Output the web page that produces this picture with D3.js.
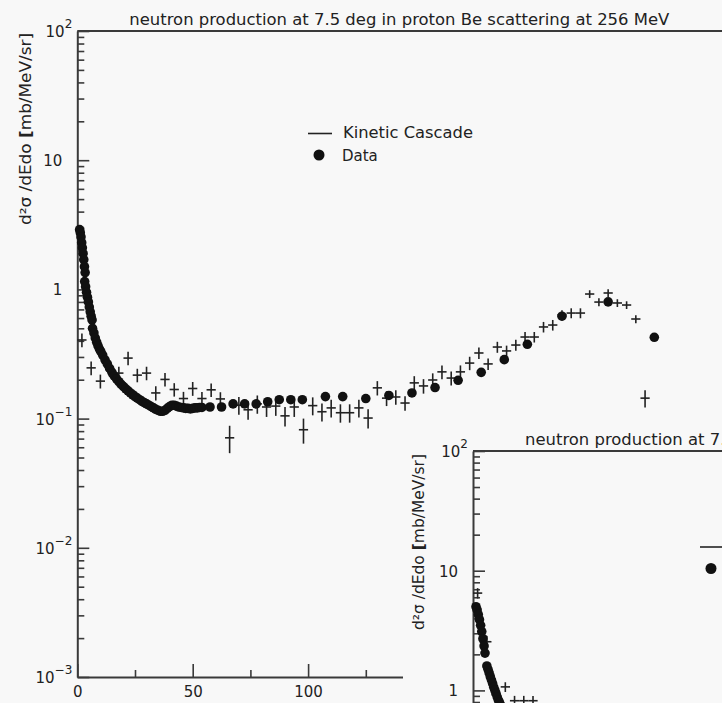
<!DOCTYPE html>
<html>
<head>
<meta charset="utf-8">
<script src="https://cdn.jsdelivr.net/npm/d3@7"></script>
<style>
  html, body { margin: 0; padding: 0; background: #f8f8f8; }
  svg { display: block; }
  text { font-family: "DejaVu Sans", sans-serif; fill: #222; }
</style>
</head>
<body>
<svg id="chart" width="722" height="703"></svg>
<script>
// ---- Be(p,n) at 7.5 deg, Tp = 256 MeV : measured spectrum (energy in MeV, d2sigma in mb/MeV/sr)
const dataE = [
  1.0, 1.3, 1.6, 1.9, 2.2, 2.5, 2.8, 3.1, 3.4,
  3.2, 3.6, 4.0, 4.4, 4.8, 5.2, 5.6, 6.0, 6.4,
  6.6, 7.2, 7.8, 8.4, 9.0, 9.6, 10.2, 11, 12, 13, 14, 15, 16, 17, 18, 19, 20,
  21, 22, 23, 24, 25, 26, 27, 28, 29, 30, 31, 32, 33, 34, 35, 36, 37, 38, 39, 40,
  41, 42, 43, 44, 45, 46, 47, 48, 49, 50, 51, 52, 53, 54,
  57.5, 62.5, 67.5, 72.5, 77.5, 82.5, 87.5, 92.5, 97.5, 107.5, 115, 125, 135,
  145, 155, 165, 175, 185, 195, 210, 230, 250
];
const dataV = [
  2.9, 2.75, 2.55, 2.3, 2.1, 1.9, 1.7, 1.5, 1.35,
  1.15, 1.05, 0.95, 0.87, 0.80, 0.73, 0.67, 0.62, 0.58,
  0.50, 0.46, 0.42, 0.39, 0.365, 0.345, 0.33, 0.31, 0.285, 0.265, 0.245, 0.228, 0.214, 0.203, 0.193, 0.184, 0.177,
  0.170, 0.164, 0.158, 0.153, 0.148, 0.144, 0.140, 0.136, 0.133, 0.130, 0.127, 0.124, 0.121, 0.118, 0.116, 0.114, 0.114, 0.116, 0.120, 0.124,
  0.127, 0.127, 0.125, 0.123, 0.122, 0.121, 0.120, 0.120, 0.119, 0.120, 0.121, 0.121, 0.122, 0.122,
  0.123, 0.123, 0.130, 0.130, 0.130, 0.135, 0.140, 0.140, 0.140, 0.148, 0.148, 0.143, 0.151,
  0.158, 0.174, 0.198, 0.228, 0.286, 0.376, 0.62, 0.80, 0.426
];

// ---- Kinetic cascade histogram: bin centres, contents and statistical errors
const kcBinWidth = 4;
const kcE = [2, 6, 10, 14, 18, 22, 26, 30, 34, 38, 42, 46, 50, 54, 58, 62, 66, 70, 74, 78,
  82, 86, 90, 94, 98, 102, 106, 110, 114, 118, 122, 126, 130, 134, 138, 142, 146, 150, 154, 158,
  162, 166, 170, 174, 178, 182, 186, 190, 194, 198, 202, 206, 210, 214, 218, 222, 226, 230, 234, 238,
  242, 246];
const kcV = [0.406, 0.247, 0.195, 0.24, 0.225, 0.294, 0.217, 0.225, 0.158, 0.201, 0.168, 0.143, 0.171, 0.143, 0.167, 0.142, 0.071, 0.127, 0.117, 0.130,
  0.123, 0.125, 0.105, 0.123, 0.082, 0.126, 0.113, 0.121, 0.111, 0.111, 0.121, 0.101, 0.173, 0.144, 0.147, 0.132, 0.189, 0.179, 0.199, 0.230,
  0.206, 0.230, 0.269, 0.322, 0.265, 0.358, 0.334, 0.371, 0.428, 0.428, 0.512, 0.530, 0.634, 0.656, 0.656, 0.921, 0.798, 0.938, 0.785, 0.757,
  0.590, 0.144];
const kcErr = [0.05, 0.03, 0.024, 0.03, 0.027, 0.035, 0.026, 0.027, 0.02, 0.024, 0.02, 0.018, 0.021, 0.018, 0.02, 0.018, 0.017, 0.02, 0.019, 0.021,
  0.02, 0.02, 0.018, 0.02, 0.018, 0.02, 0.018, 0.019, 0.018, 0.018, 0.019, 0.017, 0.022, 0.019, 0.019, 0.017, 0.024, 0.023, 0.025, 0.028,
  0.026, 0.028, 0.032, 0.033, 0.027, 0.035, 0.033, 0.036, 0.04, 0.04, 0.048, 0.05, 0.057, 0.058, 0.058, 0.064, 0.056, 0.064, 0.054, 0.052,
  0.042, 0.022];

// ---- second window (next angle): low-energy part of its spectrum
const data2E = [1.3, 1.8, 2.3, 2.8, 3.3, 3.8, 4.3, 4.8, 5.2,
  6.0, 6.5, 7.0, 7.5, 8.0, 8.5, 9.0, 9.5, 10, 10.5, 11, 11.5, 12, 12.5];
const data2V = [5.0, 4.7, 4.3, 3.9, 3.5, 3.1, 2.7, 2.35, 2.05,
  1.6, 1.5, 1.4, 1.3, 1.22, 1.14, 1.06, 1.0, 0.94, 0.88, 0.83, 0.79, 0.75, 0.71];
const kc2E = [2, 6, 10, 14, 18, 22, 26];
const kc2V = [6.5, 2.55, 0.92, 1.07, 0.82, 0.82, 0.82];
const kc2Err = [0.65, 0.3, 0.1, 0.1, 0.08, 0.08, 0.08];

// ---- axis ticks and labels
const xTickVals = [0, 50, 100, 150, 200, 250];
const xTickLabels = ["0", "50", "100", "150", "200", "250"];
const xMinorVals = [25, 75, 125, 175, 225, 275];
const yTickVals = [100, 10, 1, 0.1, 0.01, 0.001];
const yTickBase = ["10", "10", "1", "10", "10", "10"];
const yTickSup = ["2", "", "", "\u22121", "\u22122", "\u22123"];
const yMinorVals = [0.001, 0.01, 0.1, 1, 10].flatMap(d => [2, 3, 4, 5, 6, 7, 8, 9].map(k => k * d));

const title1 = "neutron production at 7.5 deg in proton Be scattering at 256 MeV";
const yTitle = ["d\u00B2\u03C3 /dEdo ", "[", "mb/MeV/sr]"];
const legendLabels = ["Kinetic Cascade", "Data"];

const W = 722, H = 703;
const svg = d3.select("#chart");
const BG = "#f8f8f8";
const INK = "#222";
const AXIS = "#3a3a3a";

function drawPanel(root, o) {
  const x = d3.scaleLinear().domain([0, 280]).range([o.left, o.left + 2.308 * 280]);
  const y = d3.scaleLog().domain([1e-3, 1e2]).range([o.top + 5 * o.decade, o.top]);
  const g = root.append("g");
  const bottom = y.range()[0];
  const xLabelsShown = bottom + 22 <= H;

  // top frame line
  g.append("line")
    .attr("x1", o.left).attr("x2", W + 10)
    .attr("y1", o.top).attr("y2", o.top)
    .attr("stroke", AXIS).attr("stroke-width", 2);

  // y axis: decades (long ticks) and 2..9 (short ticks), pointing inward
  const yMaj = g.append("g").attr("transform", `translate(${o.left},0)`)
    .call(d3.axisLeft(y).tickValues(yTickVals).tickSize(-12).tickSizeOuter(0).tickFormat(""));
  const yMin = g.append("g").attr("transform", `translate(${o.left},0)`)
    .call(d3.axisLeft(y).tickValues(yMinorVals).tickSize(-7).tickSizeOuter(0).tickFormat(""));
  yMin.select(".domain").remove();

  // x axis (labels only when the axis lies inside the page)
  const xg = g.append("g").attr("transform", `translate(0,${bottom})`)
    .call(d3.axisBottom(x).tickValues(xTickVals).tickSize(-13).tickSizeOuter(0).tickPadding(9)
      .tickFormat((d, i) => xLabelsShown ? xTickLabels[i] : ""));
  const xm = g.append("g").attr("transform", `translate(0,${bottom})`)
    .call(d3.axisBottom(x).tickValues(xMinorVals).tickSize(-7).tickSizeOuter(0).tickFormat(""));
  xm.select(".domain").remove();
  if (!xLabelsShown) xg.selectAll(".tick text").remove();

  [yMaj, yMin, xg, xm].forEach(a => {
    a.select(".domain").attr("stroke", AXIS).attr("stroke-width", 2);
    a.selectAll(".tick line").attr("stroke", AXIS).attr("stroke-width", 1.6);
  });
  xg.selectAll(".tick text")
    .attr("font-family", "DejaVu Sans, sans-serif").attr("font-size", 15).attr("fill", INK);

  // y tick labels, powers of ten with superscript exponents
  const yl = g.append("g");
  yTickVals.forEach((v, i) => {
    if (y(v) + 6 > H) return;
    const hasSup = yTickSup[i] !== "";
    const t = yl.append("text")
      .attr("x", o.left - (hasSup ? 5 : 15))
      .attr("y", y(v) + 6)
      .attr("text-anchor", "end")
      .attr("font-size", 15);
    t.append("tspan").text(yTickBase[i]);
    if (hasSup) t.append("tspan").attr("dy", -9).attr("font-size", 12).text(yTickSup[i]);
  });

  // title
  g.append("text")
    .attr("x", o.left + 322).attr("y", o.top - 6)
    .attr("text-anchor", "middle").attr("font-size", 15)
    .attr("textLength", 540).attr("lengthAdjust", "spacingAndGlyphs")
    .text(title1);

  // y axis title (rotated)
  const yt = g.append("text")
    .attr("transform", `translate(${o.yTitleX},${o.yTitleY}) rotate(-90)`)
    .attr("text-anchor", "middle").attr("font-size", 15)
    .attr("textLength", o.yTitleLen).attr("lengthAdjust", "spacingAndGlyphs");
  yt.append("tspan").text(yTitle[0]);
  yt.append("tspan").attr("font-weight", "bold").text(yTitle[1]);
  yt.append("tspan").text(yTitle[2]);

  // kinetic cascade histogram drawn as bin-width bars with error bars
  const kc = g.append("g").attr("stroke", INK).attr("stroke-width", 1.6);
  o.kcE.forEach((e, i) => {
    const v = o.kcV[i], er = o.kcErr[i];
    kc.append("line")
      .attr("x1", x(e - kcBinWidth / 2)).attr("x2", x(e + kcBinWidth / 2))
      .attr("y1", y(v)).attr("y2", y(v));
    kc.append("line")
      .attr("x1", x(e)).attr("x2", x(e))
      .attr("y1", y(v - er)).attr("y2", y(v + er));
  });

  // data points
  g.append("g").attr("fill", "#111")
    .selectAll("circle").data(o.dataE.map((e, i) => [e, o.dataV[i]]))
    .join("circle")
    .attr("cx", d => x(d[0])).attr("cy", d => y(d[1])).attr("r", 4.8);

  // legend
  const lg = g.append("g");
  lg.append("line")
    .attr("x1", o.legX).attr("x2", o.legX + 24)
    .attr("y1", o.legY).attr("y2", o.legY)
    .attr("stroke", INK).attr("stroke-width", 1.6);
  lg.append("circle").attr("cx", o.legX + 11).attr("cy", o.legY + 21.5).attr("r", 5.5).attr("fill", "#111");
  if (o.legX + 35 < W) {
    lg.append("text").attr("x", o.legX + 35).attr("y", o.legY + 4.5)
      .attr("font-size", 15).attr("textLength", 130).attr("lengthAdjust", "spacingAndGlyphs")
      .text(legendLabels[0]);
    lg.append("text").attr("x", o.legX + 34).attr("y", o.legY + 27)
      .attr("font-size", 15).text(legendLabels[1]);
  }
}

// main window: 7.5 deg
drawPanel(svg, {
  left: 77.3, top: 31, decade: 129.2,
  yTitleX: 31, yTitleY: 129, yTitleLen: 192,
  dataE, dataV, kcE, kcV, kcErr,
  legX: 308, legY: 133.5
});

// second window stacked over the lower right corner
svg.append("rect").attr("x", 403).attr("y", 415).attr("width", 330).attr("height", 300).attr("fill", BG);
drawPanel(svg, {
  left: 473, top: 451, decade: 119.7,
  yTitleX: 424, yTitleY: 542, yTitleLen: 176,
  dataE: data2E, dataV: data2V, kcE: kc2E, kcV: kc2V, kcErr: kc2Err,
  legX: 700, legY: 547
});
</script>
</body>
</html>
